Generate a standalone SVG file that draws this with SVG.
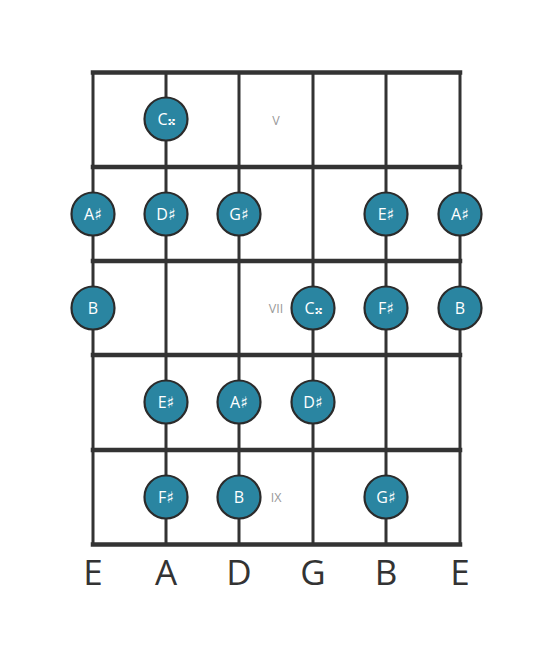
<svg xmlns="http://www.w3.org/2000/svg" width="553" height="656" viewBox="0 0 553 656">
<style>
.fret{stroke:#333;stroke-width:4.5;stroke-linecap:square}
.str{stroke:#333;stroke-width:3}
.note circle{fill:#2a85a1;stroke:#2b2b2b;stroke-width:2.2}
.note text{fill:#fff;font-family:"Open Sans","DejaVu Sans",sans-serif;font-size:16px;text-anchor:middle;dominant-baseline:central}
.mark{fill:#999;font-family:"Open Sans",sans-serif;font-size:12.5px;text-anchor:middle;dominant-baseline:central}
.lbl{fill:#333;font-family:"Open Sans",sans-serif;font-size:35px;text-anchor:middle}
</style>
<rect width="553" height="656" fill="#fff"/>
<g id="connectors">
<line class="str" x1="93" y1="72" x2="93" y2="545"/>
<line class="str" x1="166" y1="72" x2="166" y2="545"/>
<line class="str" x1="239" y1="72" x2="239" y2="545"/>
<line class="str" x1="313" y1="72" x2="313" y2="545"/>
<line class="str" x1="386" y1="72" x2="386" y2="545"/>
<line class="str" x1="460" y1="72" x2="460" y2="545"/>
<line class="fret" x1="93" y1="72.5" x2="460" y2="72.5"/>
<line class="fret" x1="93" y1="167" x2="460" y2="167"/>
<line class="fret" x1="93" y1="261" x2="460" y2="261"/>
<line class="fret" x1="93" y1="355" x2="460" y2="355"/>
<line class="fret" x1="93" y1="450" x2="460" y2="450"/>
<line class="fret" x1="93" y1="544.5" x2="460" y2="544.5"/>
</g>
<g id="markers">
<text class="mark" x="276" y="120">V</text>
<text class="mark" x="276" y="308">VII</text>
<text class="mark" x="276" y="497">IX</text>
</g>
<g id="n1" class="note"><circle cx="166" cy="119" r="21.5"/><text x="166" y="119">C𝄪</text></g>
<g id="n2" class="note"><circle cx="93" cy="214" r="21.5"/><text x="93" y="214">A♯</text></g>
<g id="n3" class="note"><circle cx="166" cy="214" r="21.5"/><text x="166" y="214">D♯</text></g>
<g id="n4" class="note"><circle cx="239" cy="214" r="21.5"/><text x="239" y="214">G♯</text></g>
<g id="n5" class="note"><circle cx="386" cy="214" r="21.5"/><text x="386" y="214">E♯</text></g>
<g id="n6" class="note"><circle cx="460" cy="214" r="21.5"/><text x="460" y="214">A♯</text></g>
<g id="n7" class="note"><circle cx="93" cy="308" r="21.5"/><text x="93" y="308">B</text></g>
<g id="n8" class="note"><circle cx="313" cy="308" r="21.5"/><text x="313" y="308">C𝄪</text></g>
<g id="n9" class="note"><circle cx="386" cy="308" r="21.5"/><text x="386" y="308">F♯</text></g>
<g id="n10" class="note"><circle cx="460" cy="308" r="21.5"/><text x="460" y="308">B</text></g>
<g id="n11" class="note"><circle cx="166" cy="402" r="21.5"/><text x="166" y="402">E♯</text></g>
<g id="n12" class="note"><circle cx="239" cy="402" r="21.5"/><text x="239" y="402">A♯</text></g>
<g id="n13" class="note"><circle cx="313" cy="402" r="21.5"/><text x="313" y="402">D♯</text></g>
<g id="n14" class="note"><circle cx="166" cy="497" r="21.5"/><text x="166" y="497">F♯</text></g>
<g id="n15" class="note"><circle cx="239" cy="497" r="21.5"/><text x="239" y="497">B</text></g>
<g id="n16" class="note"><circle cx="386" cy="497" r="21.5"/><text x="386" y="497">G♯</text></g>
<g id="labels">
<text class="lbl" x="93" y="585">E</text>
<text class="lbl" x="166" y="585">A</text>
<text class="lbl" x="239" y="585">D</text>
<text class="lbl" x="313" y="585">G</text>
<text class="lbl" x="386" y="585">B</text>
<text class="lbl" x="460" y="585">E</text>
</g>
</svg>
